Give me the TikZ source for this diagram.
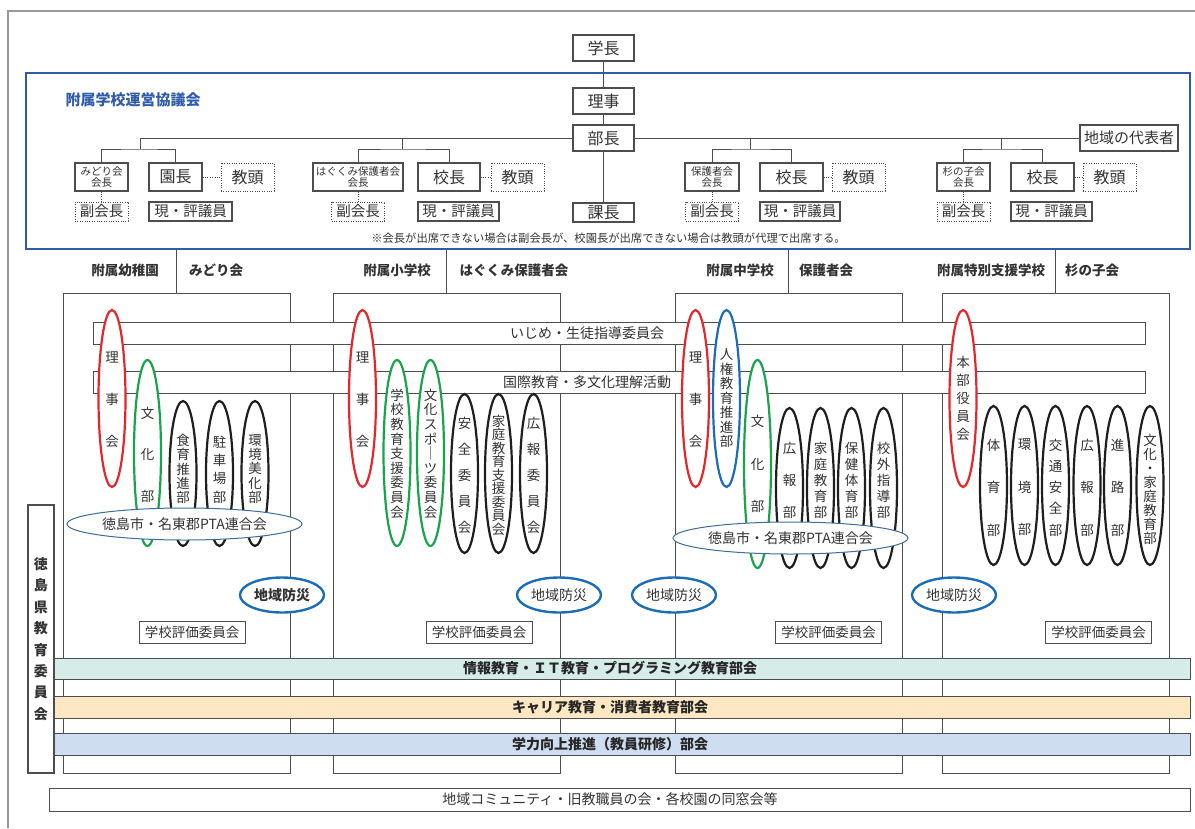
\documentclass[tikz,border=0pt]{standalone}
\usepackage{fontspec}
\setmainfont{Noto Sans CJK JP}
\usepackage{tikz}

\definecolor{councilblue}{HTML}{2F5BAA}
\definecolor{ovred}{HTML}{E5262C}
\definecolor{ovgreen}{HTML}{19A34A}
\definecolor{ovblue}{HTML}{1C6DB6}
\definecolor{ovblack}{HTML}{1E1E1E}
\definecolor{ptablue}{HTML}{3E6D98}
\definecolor{inkgray}{HTML}{333333}
\definecolor{linegray}{HTML}{4D4D4D}
\definecolor{framegray}{HTML}{999999}
\definecolor{barteal}{HTML}{D5ECE9}
\definecolor{barorange}{HTML}{FDE8C3}
\definecolor{barblue}{HTML}{CEDDEF}

\tikzset{
  conn/.style={draw=linegray, line width=1pt},
  dotlink/.style={draw=linegray, line width=1pt, dash pattern=on 1pt off 1.4pt},
  topbox/.style={draw=linegray, line width=1.2pt, fill=white, inner sep=0pt,
    minimum width=61pt, minimum height=26pt, font=\fontsize{16}{18}\selectfont},
  kaibox/.style={draw=linegray, line width=1.2pt, fill=white, inner sep=0pt,
    minimum height=28pt, align=center, font=\fontsize{10.5}{10.5}\selectfont},
  chobox/.style={topbox, minimum height=28pt},
  dotbox/.style={dotlink, inner sep=0pt, minimum width=53pt, minimum height=28pt,
    font=\fontsize{16}{18}\selectfont},
  membox/.style={draw=linegray, line width=1.2pt, inner sep=0pt, minimum height=19pt,
    font=\fontsize{14.5}{16}\selectfont},
  schoolbox/.style={draw=linegray, line width=1pt, minimum width=227pt,
    minimum height=480pt, inner sep=0pt},
  headlabel/.style={font=\bfseries\fontsize{13.5}{15}\selectfont},
  wbar/.style={draw=linegray, line width=1pt, fill=white, minimum width=1052pt,
    minimum height=22pt, inner sep=0pt},
  bartext/.style={font=\fontsize{14}{16}\selectfont},
  cbar/.style={draw=linegray, line width=1pt, fill=#1, minimum width=1136pt,
    minimum height=22pt, inner sep=0pt},
  ctext/.style={font=\bfseries\fontsize{14}{16}\selectfont, text=black!85},
  vlab/.style={align=center, inner sep=0pt, font=\fontsize{13.5}{#1}\selectfont},
  oval/.style={draw=#1, line width=2.2pt, fill=white},
  pta/.style={draw=ptablue, line width=1pt, fill=white},
  bosai/.style={draw=ovblue, line width=2.4pt, fill=white},
  evalbox/.style={draw=linegray, line width=1pt, fill=white, inner sep=0pt,
    minimum width=106pt, minimum height=22pt, font=\fontsize{13.5}{15}\selectfont}
}

\begin{document}
\begin{tikzpicture}[x=1pt, y=-1pt, every node/.style={text=inkgray}]
  \useasboundingbox (0,0) rectangle (1195,828);
  % outer frame
  \draw[framegray, line width=1.5pt] (8,828) -- (8,11) -- (1195,11);

  % council
  \node[draw=councilblue, line width=2pt, minimum width=1164pt, minimum height=176pt,
    inner sep=0pt] (council) at (608,161) {};
  \node[anchor=west, text=councilblue, font=\bfseries\fontsize{15}{17}\selectfont]
    (title) at (62,100) {附属学校運営協議会};
  \node[topbox] (gakucho) at (603.5,48) {学長};
  \node[topbox] (riji) at (603.5,101) {理事};
  \node[topbox] (bucho) at (603.5,138) {部長};
  \node[topbox, minimum height=19pt] (kacho) at (603.5,212.5) {課長};
  \node[topbox, minimum width=98pt, font=\fontsize{15}{17}\selectfont] (daihyo) at (1129,138) {地域の代表者};
  \coordinate (hleft) at (140,138);
  \draw[conn] (gakucho) -- (riji) -- (bucho) -- (kacho);
  \draw[conn] (hleft) -- (bucho) -- (daihyo);

  % four groups
  \foreach \jx/\kx/\kw/\kn/\cx/\cn/\cw/\tx/\hx/\hw [count=\g] in {
      140/101.5/53/{みどり会\\会長}/175.5/園長/53/247.5/190.5/83,
      402/358/90/{はぐくみ保護者会\\会長}/449/校長/62/517.5/458.5/81,
      750/712/54/{保護者会\\会長}/791.5/校長/63/858.5/800/80,
      1001/963.5/53/{杉の子会\\会長}/1042.5/校長/63/1109.5/1051.5/81} {
    \coordinate (br\g) at (\jx,149);
    \node[kaibox, minimum width=\kw] (ka\g) at (\kx,177) {\kn};
    \node[chobox, minimum width=\cw] (cho\g) at (\cx,177) {\cn};
    \node[dotbox] (kyo\g) at (\tx,177) {教頭};
    \node[dotbox, minimum height=19pt, font=\fontsize{14.5}{16}\selectfont] (fuku\g) at (\kx,211.5) {副会長};
    \node[membox, minimum width=\hw] (hyo\g) at (\hx,211.5) {現・評議員};
    \draw[conn] (br\g |- bucho) -- (br\g);
    \draw[conn] (ka\g.north) |- (br\g) -| (cho\g.north);
    \draw[dotlink] (cho\g) -- (kyo\g);
    \draw[dotlink] (ka\g) -- (fuku\g);
  }
  \node[font=\fontsize{11.3}{13}\selectfont] (note) at (608.5,238)
    {※会長が出席できない場合は副会長が、校園長が出席できない場合は教頭が代理で出席する。};

  % schools
  \foreach \sx/\la/\xa/\lb/\xb/\ex [count=\s] in {
      176.5/附属幼稚園/125/みどり会/216/192,
      446.5/附属小学校/397/はぐくみ保護者会/514/479,
      788.5/附属中学校/740/保護者会/826/828.5,
      1055.5/附属特別支援学校/991/杉の子会/1092/1098.5} {
    \node[schoolbox] (sch\s) at (\sx,533) {};
    \draw[conn] (sch\s.north) -- (sch\s.north |- council.south);
    \node[headlabel] (hd\s) at (\xa,270) {\la};
    \node[headlabel] (pa\s) at (\xb,270) {\lb};
    \node[evalbox] (eval\s) at (\ex,632) {学校評価委員会};
  }

  % committees across schools
  \node[wbar] (ijime) at (619,333) {};
  \node[bartext] (ijimet) at (587,333) {いじめ・生徒指導委員会};
  \node[wbar] (kokusai) at (619,382) {};
  \node[bartext] (kokusait) at (587,382) {国際教育・多文化理解活動};

  % PTA ovals
  \foreach \oc/\ox/\oy/\orad/\oty/\olead/\otext [count=\k] in {
      ovred/112/398.5/88.5/399.5/42/{理\\事\\会},
      ovgreen/147.5/453/93/454.5/41.5/{文\\化\\部},
      ovblack/183/473.5/72.5/469/14.3/{食\\育\\推\\進\\部},
      ovblack/219.5/473.5/72.5/469.5/18.3/{駐\\車\\場\\部},
      ovblack/255/473.5/72.5/469/14.3/{環\\境\\美\\化\\部},
      ovred/362.5/398.5/88.5/399.5/42/{理\\事\\会},
      ovgreen/397/453/93/453.5/14.6/{学\\校\\教\\育\\支\\援\\委\\員\\会},
      ovgreen/430.5/453/93/453.5/14.6/{文\\化\\ス\\ポ\\｜\\ツ\\委\\員\\会},
      ovblack/464.5/473.5/79.5/475/26/{安\\全\\委\\員\\会},
      ovblack/498.5/473.5/79.5/475/13.5/{家\\庭\\教\\育\\支\\援\\委\\員\\会},
      ovblack/533.5/473.5/79.5/475/26/{広\\報\\委\\員\\会},
      ovred/695.5/398.5/88.5/399.5/42/{理\\事\\会},
      ovblue/726.5/398.5/88.5/398.5/14.5/{人\\権\\教\\育\\推\\進\\部},
      ovgreen/757.5/464/104/464/42.5/{文\\化\\部},
      ovblack/789.5/488/80/480/32/{広\\報\\部},
      ovblack/820.5/488/80/480/16/{家\\庭\\教\\育\\部},
      ovblack/851.5/488/80/480/16/{保\\健\\体\\育\\部},
      ovblack/883.5/488/80/480/16/{校\\外\\指\\導\\部},
      ovred/963/398.5/88.5/398/18/{本\\部\\役\\員\\会},
      ovblack/993.5/485.5/79.5/487.5/42.5/{体\\育\\部},
      ovblack/1024.5/485.5/79.5/487.5/42.5/{環\\境\\部},
      ovblack/1055.5/485.5/79.5/487.5/21.3/{交\\通\\安\\全\\部},
      ovblack/1087/485.5/79.5/487.5/42.5/{広\\報\\部},
      ovblack/1117.5/485.5/79.5/487.5/42.5/{進\\路\\部},
      ovblack/1150/485.5/79.5/489/14/{文\\化\\・\\家\\庭\\教\\育\\部}} {
    \draw[oval=\oc] (\ox,\oy) ellipse [x radius=13.5, y radius=\orad];
    \node[vlab=\olead] (ov\k) at (\ox,\oty) {\otext};
  }
  \draw[pta] (184.5,524) ellipse [x radius=117.5, y radius=16];
  \node[bartext] (pta1) at (184.5,524) {徳島市・名東郡PTA連合会};
  \draw[pta] (790.5,538) ellipse [x radius=117.5, y radius=16];
  \node[bartext] (pta3) at (790.5,538) {徳島市・名東郡PTA連合会};

  % local disaster prevention
  \foreach \bx/\wt [count=\k] in {282/\bfseries, 559/\mdseries, 674/\mdseries, 954/\mdseries} {
    \draw[bosai] (\bx,595) ellipse [x radius=42, y radius=17.5];
    \node[font=\wt\fontsize{14}{16}\selectfont] (bosai\k) at (\bx,595) {地域防災};
  }

  % prefectural board
  \node[draw=linegray, line width=1.2pt, fill=white, minimum width=26pt, minimum height=268pt,
    inner sep=0pt, align=center, font=\bfseries\fontsize{14}{21.4}\selectfont]
    (board) at (41,639) {徳\\島\\県\\教\\育\\委\\員\\会};

  % subject meetings
  \node[cbar=barteal, minimum height=21pt] (joho) at (622,668.5) {};
  \node[ctext] (johot) at (610,668.5) {情報教育・ＩＴ教育・プログラミング教育部会};
  \node[cbar=barorange] (career) at (622,707) {};
  \node[ctext] (careert) at (610,707) {キャリア教育・消費者教育部会};
  \node[cbar=barblue] (gakuryoku) at (622,744) {};
  \node[ctext] (gakuryokut) at (610,744) {学力向上推進（教員研修）部会};

  % community
  \node[draw=linegray, line width=1pt, minimum width=1141pt, minimum height=23pt,
    inner sep=0pt] (community) at (619.5,799.5) {};
  \node[bartext] (communityt) at (610,799.5) {地域コミュニティ・旧教職員の会・各校園の同窓会等};
\end{tikzpicture}
\end{document}
